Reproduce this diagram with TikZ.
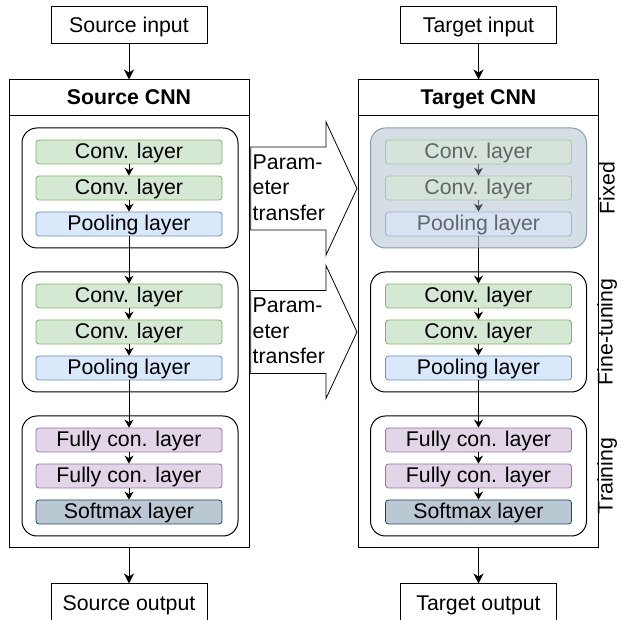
\documentclass[tikz,border=0pt]{standalone}
\usepackage{fontspec}
\setmainfont{Liberation Sans}
\usetikzlibrary{arrows.meta}

\definecolor{convfill}{HTML}{D5E8D4}
\definecolor{convdraw}{HTML}{82B366}
\definecolor{poolfill}{HTML}{DAE8FC}
\definecolor{pooldraw}{HTML}{6C8EBF}
\definecolor{fcfill}{HTML}{E1D5E7}
\definecolor{fcdraw}{HTML}{9673A6}
\definecolor{smfill}{HTML}{BAC8D3}
\definecolor{smdraw}{HTML}{23445D}
\definecolor{fixfill}{HTML}{D6DEE5}
\definecolor{fixdraw}{HTML}{8A9CAB}
\definecolor{fixedge}{HTML}{70787F}

\begin{document}
\begin{tikzpicture}[x=1pt,y=-1pt,
  every node/.style={font=\fontsize{21.3}{25.5}\selectfont, inner sep=0pt},
  oneline/.style={text height=15.5pt, text depth=2pt},
  iobox/.style={oneline, draw, line width=1pt, minimum width=156pt, minimum height=37pt},
  cnnbox/.style={draw, line width=1pt, minimum width=240pt, minimum height=468pt},
  head/.style={oneline, font=\fontsize{21.3}{25.5}\selectfont\bfseries},
  group/.style={draw, line width=1pt, rounded corners=15pt, minimum width=216pt, minimum height=120pt},
  layer/.style={oneline, line width=0.8pt, rounded corners=3pt, minimum width=186pt, minimum height=24pt},
  conv/.style={layer, fill=convfill, draw=convdraw},
  pool/.style={layer, fill=poolfill, draw=pooldraw},
  fc/.style={layer, fill=fcfill, draw=fcdraw},
  soft/.style={layer, fill=smfill, draw=smdraw},
  faded/.style={opacity=0.55},
  flow/.style={line width=1pt, -{Stealth[length=10pt,width=10pt,inset=3pt]}},
  inner/.style={line width=1pt, -{Stealth[length=8pt,width=9pt,inset=2.5pt]}},
  transfer/.style={draw, line width=0.8pt, fill=white},
  side/.style={rotate=90}
]
\useasboundingbox (0,0) rectangle (622,620);

% ---------------- source network ----------------
\node[iobox] (srcin) at (129,25.5) {Source input};
\node[cnnbox] (srccnn) at (129,314) {};
\node[head] (srchead) at (129,98) {Source CNN};
\draw[line width=1pt] (srccnn.west |- 0,116) -- (srccnn.east |- 0,116);
\node[iobox, minimum height=39pt] (srcout) at (129,603.5) {Source output};

\node[group] (sg1) at (130,188) {};
\node[group] (sg2) at (130,332) {};
\node[group] (sg3) at (130,476) {};

\node[conv] (sc1) at (129,152) {Conv. layer};
\node[conv] (sc2) at (129,188) {Conv. layer};
\node[pool] (sp1) at (129,224) {Pooling layer};
\node[conv] (sc3) at (129,296) {Conv. layer};
\node[conv] (sc4) at (129,332) {Conv. layer};
\node[pool] (sp2) at (129,368) {Pooling layer};
\node[fc]   (sf1) at (129,440) {Fully con. layer};
\node[fc]   (sf2) at (129,476) {Fully con. layer};
\node[soft] (ss)  at (129,512) {Softmax layer};

\draw[flow] (srcin) -- (srccnn.north);
\draw[flow] (srccnn.south) -- (srcout);
\draw[inner] (sc1) -- (sc2);
\draw[inner] (sc2) -- (sp1);
\draw[inner] (sp1) -- (sc3);
\draw[inner] (sc3) -- (sc4);
\draw[inner] (sc4) -- (sp2);
\draw[inner] (sp2) -- (sf1);
\draw[inner] (sf1) -- (sf2);
\draw[inner] (sf2) -- (ss);

% ---------------- target network ----------------
\node[iobox] (tgtin) at (478.5,25.5) {Target input};
\node[cnnbox] (tgtcnn) at (478.5,314) {};
\node[head] (tgthead) at (478.5,98) {Target CNN};
\draw[line width=1pt] (tgtcnn.west |- 0,116) -- (tgtcnn.east |- 0,116);
\node[iobox, minimum height=39pt] (tgtout) at (478.5,603.5) {Target output};

\node[group, fill=fixfill, draw=fixdraw] (tg1) at (478.5,188) {};
\node[group] (tg2) at (478.5,332) {};
\node[group] (tg3) at (478.5,476) {};

\node[conv, faded] (tc1) at (478.5,152) {Conv. layer};
\node[conv, faded] (tc2) at (478.5,188) {Conv. layer};
\node[pool, faded] (tp1) at (478.5,224) {Pooling layer};
\node[conv] (tc3) at (478.5,296) {Conv. layer};
\node[conv] (tc4) at (478.5,332) {Conv. layer};
\node[pool] (tp2) at (478.5,368) {Pooling layer};
\node[fc]   (tf1) at (478.5,440) {Fully con. layer};
\node[fc]   (tf2) at (478.5,476) {Fully con. layer};
\node[soft] (ts)  at (478.5,512) {Softmax layer};

\draw[flow] (tgtin) -- (tgtcnn.north);
\draw[flow] (tgtcnn.south) -- (tgtout);
\draw[inner, faded] (tc1) -- (tc2);
\draw[inner, faded] (tc2) -- (tp1);
\draw[inner] (tp1) -- (tc3);
\draw[line width=1pt, fixedge] (tp1.south) -- (tp1.south |- tg1.south);
\draw[inner] (tc3) -- (tc4);
\draw[inner] (tc4) -- (tp2);
\draw[inner] (tp2) -- (tf1);
\draw[inner] (tf1) -- (tf2);
\draw[inner] (tf2) -- (ts);

% stage labels
\node[side] (lfix)   at (607,188) {Fixed};
\node[side] (ltune)  at (607,332) {Fine-tuning};
\node[side] (ltrain) at (607,476) {Training};

% ---------------- parameter transfer arrows ----------------
\foreach \cy/\nm in {188.5/ta, 332/tb}{
  \draw[transfer] (250.7,\cy-41.5) -- (326,\cy-41.5) -- (326,\cy-66.5)
    -- (357,\cy) -- (326,\cy+66.5) -- (326,\cy+41.5) -- (250.7,\cy+41.5) -- cycle;
  \node[anchor=west, align=left] (\nm) at (252.5,\cy-1) {Param-\\eter\\transfer};
}
\end{tikzpicture}
\end{document}
